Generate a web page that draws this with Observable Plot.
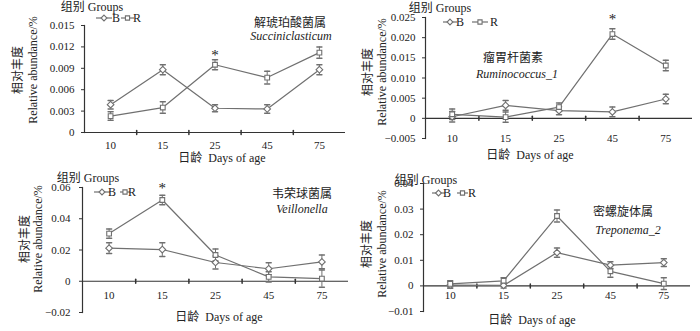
<!DOCTYPE html>
<html><head><meta charset="utf-8">
<script src="https://cdn.jsdelivr.net/npm/d3@7"></script>
<script src="https://cdn.jsdelivr.net/npm/@observablehq/plot@0.6"></script>
<style>
body{margin:0;background:#fff;}
#wrap{position:relative;width:700px;height:331px;overflow:hidden;background:#fff;}
.panel{position:absolute;}
#wrap svg, #wrap svg text{font-family:"Liberation Serif","Noto Sans CJK SC",serif !important;}
</style></head><body><div id="wrap"></div>
<script>
// ---------- data ----------
const days = ["10", "15", "25", "45", "75"];
const groups = ["B", "R"];

// Succiniclasticum
const succB = [0.0039, 0.0088, 0.0034, 0.0033, 0.0088];
const succBErr = [0.0006, 0.0007, 0.0005, 0.0006, 0.0007];
const succR = [0.0023, 0.0035, 0.0095, 0.0077, 0.0112];
const succRErr = [0.0006, 0.0008, 0.0007, 0.0009, 0.0008];
const succTicks = [0, 0.003, 0.006, 0.009, 0.012, 0.015];

// Ruminococcus_1
const rumiB = [0.0004, 0.0032, 0.0019, 0.0016, 0.0048];
const rumiBErr = [0.0013, 0.0012, 0.0010, 0.0012, 0.0012];
const rumiR = [0.0010, 0.0003, 0.0028, 0.0209, 0.0131];
const rumiRErr = [0.0013, 0.0013, 0.0010, 0.0013, 0.0013];
const rumiTicks = [-0.005, 0, 0.005, 0.010, 0.015, 0.020, 0.025];

// Veillonella
const veilB = [0.0212, 0.0203, 0.0120, 0.0080, 0.0124];
const veilBErr = [0.0035, 0.0044, 0.0041, 0.0038, 0.0044];
const veilR = [0.0305, 0.0520, 0.0168, 0.0028, 0.0017];
const veilRErr = [0.0030, 0.0030, 0.0038, 0.0033, 0.0055];
const veilTicks = [-0.02, 0, 0.02, 0.04, 0.06];

// Treponema_2
const trepB = [0.0003, 0.0002, 0.0130, 0.0081, 0.0091];
const trepBErr = [0.0012, 0.0010, 0.0018, 0.0013, 0.0015];
const trepR = [0.0008, 0.0020, 0.0273, 0.0057, 0.0009];
const trepRErr = [0.0012, 0.0012, 0.0023, 0.0023, 0.0023];
const trepTicks = [-0.01, 0, 0.01, 0.02, 0.03, 0.04];

// significance marks (*) : day and height
const succStars = [{day: "25", y: 0.0108}];
const rumiStars = [{day: "45", y: 0.0247}];
const veilStars = [{day: "15", y: 0.0595}];
const trepStars = [];

const legendTitle = "组别 Groups";
const yLabelCn = "相对丰度";
const yLabelEn = "Relative abundance/%";
const xLabel = "日龄  Days of age";

// ---------- drawing ----------
const FONT = '"Liberation Serif","Noto Sans CJK SC",serif';
const GRAY = "#707070";
const AXIS = "#333";
const seg = {draw(c, l) { c.moveTo(0, 0); c.lineTo(0, -l); }};
const minus = s => s.replace("-", "\u2212");

const panels = [
  {cn: "解琥珀酸菌属", la: "Succiniclasticum", B: succB, Be: succBErr, R: succR, Re: succRErr,
   dom: [0, 0.015], ticks: succTicks, fmt: d => d === 0 ? "0" : d.toFixed(3), stars: succStars,
   L: {left: 0, top: 0, w: 350, h: 165, ml: 84, mr: 5, mt: 25, mb: 33, typ: 7, txp: 13,
       cn: [290, 23], la: [291, 36], ycn: 18, yen: 33, yc: 70, xl: [222, 158],
       lg: {tx: 92, ty: 7, ry: 18, s1: [96, 112], b: 116, s2: [121, 134], r: 137}}},
  {cn: "瘤胃杆菌素", la: "Ruminococcus_1", B: rumiB, Be: rumiBErr, R: rumiR, Re: rumiRErr,
   dom: [-0.005, 0.025], ticks: rumiTicks, fmt: d => d === 0 ? "0" : minus(d.toFixed(3)), stars: rumiStars,
   L: {left: 350, top: 0, w: 350, h: 165, ml: 75, mr: 8, mt: 17, mb: 27, typ: 7, txp: 0,
       cn: [163, 58], la: [167, 74], ycn: 18, yen: 32, yc: 72, xl: [180, 155],
       lg: {tx: 90, ty: 8, ry: 22, s1: [93, 107], b: 110, s2: [122, 138], r: 144}}},
  {cn: "韦荣球菌属", la: "Veillonella", B: veilB, Be: veilBErr, R: veilR, Re: veilRErr,
   dom: [-0.02, 0.06], ticks: veilTicks, fmt: d => d === 0 ? "0" : minus(d.toFixed(2)), stars: veilStars,
   L: {left: 0, top: 165, w: 350, h: 166, ml: 82, mr: 2, mt: 22, mb: 19, typ: 9, txp: -17,
       cn: [302, 29], la: [302, 44], ycn: 25, yen: 38, yc: 74, xl: [219, 152],
       lg: {tx: 88, ty: 13, ry: 27, s1: [94, 110], b: 112, s2: [120, 130], r: 132}}},
  {cn: "密螺旋体属", la: "Treponema_2", B: trepB, Be: trepBErr, R: trepR, Re: trepRErr,
   dom: [-0.01, 0.04], ticks: trepTicks, fmt: d => d === 0 ? "0" : minus(d.toFixed(2)), stars: trepStars,
   L: {left: 350, top: 165, w: 350, h: 166, ml: 73, mr: 10, mt: 18, mb: 20, typ: 7, txp: -16,
       cn: [273, 47], la: [278, 65], ycn: 17, yen: 32, yc: 79, xl: [182, 155],
       lg: {tx: 76, ty: 15, ry: 28, s1: [82, 95], b: 97, s2: [107, 118], r: 122}}}
];

const wrap = document.getElementById("wrap");

for (const p of panels) {
  const L = p.L;
  const rows = [];
  days.forEach((d, i) => {
    rows.push({day: d, i, group: "B", v: p.B[i], e: p.Be[i]});
    rows.push({day: d, i, group: "R", v: p.R[i], e: p.Re[i]});
  });
  const xi = d => days.indexOf(d.day) + 0.5;
  const svg = Plot.plot({
    width: L.w, height: L.h,
    marginLeft: L.ml, marginRight: L.mr, marginTop: L.mt, marginBottom: L.mb,
    style: {fontFamily: FONT, fontSize: "11px", background: "transparent", overflow: "visible", color: "#222"},
    x: {domain: [0, days.length]},
    y: {domain: p.dom},
    symbol: {domain: groups, range: ["diamond2", "square2"]},
    marks: [
      Plot.frame({anchor: "left", stroke: AXIS, strokeWidth: 1.2}),
      Plot.ruleY([0], {stroke: AXIS, strokeWidth: 1.2}),
      Plot.axisY({ticks: p.ticks, tickSize: 3, tickPadding: L.typ, tickFormat: p.fmt, fontSize: 11, stroke: AXIS}),
      Plot.axisX({anchor: "bottom", ticks: days.map((d, i) => i + 0.5), tickFormat: t => days[Math.floor(t)],
                  tickSize: 0, tickPadding: L.txp, lineAnchor: "middle", fontSize: 11}),
      Plot.vector(d3.range(1, days.length), {x: d => d, y: 0, length: 4, anchor: "middle", shape: seg, stroke: AXIS}),
      Plot.line(rows, {x: xi, y: "v", z: "group", stroke: GRAY, strokeWidth: 1.2}),
      Plot.ruleX(rows, {x: xi, y1: d => d.v - d.e, y2: d => d.v + d.e, stroke: GRAY, strokeWidth: 1}),
      Plot.vector(rows, {x: xi, y: d => d.v + d.e, length: 5, rotate: 90, anchor: "middle", shape: seg, stroke: GRAY}),
      Plot.vector(rows, {x: xi, y: d => d.v - d.e, length: 5, rotate: 90, anchor: "middle", shape: seg, stroke: GRAY}),
      Plot.dot(rows, {x: xi, y: "v", symbol: "group", r: 3, fill: "white", stroke: GRAY, strokeWidth: 1.1}),
      Plot.text(p.stars, {x: xi, y: "y", text: () => "*", fontSize: 15, fill: "#222"})
    ]
  });
  const div = document.createElement("div");
  div.className = "panel";
  div.style.left = L.left + "px";
  div.style.top = L.top + "px";
  div.appendChild(svg);
  wrap.appendChild(div);

  const s = d3.select(svg);
  const g = s.append("g").attr("fill", "#222");
  // genus names
  g.append("text").attr("x", L.cn[0]).attr("y", L.cn[1]).attr("text-anchor", "middle")
    .attr("dominant-baseline", "central").attr("font-size", 12).text(p.cn);
  g.append("text").attr("x", L.la[0]).attr("y", L.la[1]).attr("text-anchor", "middle")
    .attr("dominant-baseline", "central").attr("font-size", 12).attr("font-style", "italic").text(p.la);
  // y labels
  g.append("text").attr("transform", `translate(${L.ycn},${L.yc}) rotate(-90)`).attr("text-anchor", "middle")
    .attr("dominant-baseline", "central").attr("font-size", 12).text(yLabelCn);
  g.append("text").attr("transform", `translate(${L.yen},${L.yc}) rotate(-90)`).attr("text-anchor", "middle")
    .attr("dominant-baseline", "central").attr("font-size", 12).text(yLabelEn);
  // x label
  g.append("text").attr("x", L.xl[0]).attr("y", L.xl[1]).attr("text-anchor", "middle")
    .attr("dominant-baseline", "central").attr("font-size", 12).style("white-space", "pre").text(xLabel);
  // legend
  const lg = L.lg;
  g.append("text").attr("x", lg.tx).attr("y", lg.ty).attr("dominant-baseline", "central").attr("font-size", 12).text(legendTitle);
  const entries = [
    {s: lg.s1, t: lg.b, sym: d3.symbolDiamond2, label: groups[0]},
    {s: lg.s2, t: lg.r, sym: d3.symbolSquare2, label: groups[1]}
  ];
  for (const e of entries) {
    g.append("line").attr("x1", e.s[0]).attr("x2", e.s[1]).attr("y1", lg.ry).attr("y2", lg.ry)
      .attr("stroke", GRAY).attr("stroke-width", 1.2);
    g.append("path").attr("d", d3.symbol(e.sym, 22)()).attr("transform", `translate(${(e.s[0] + e.s[1]) / 2},${lg.ry})`)
      .attr("fill", "white").attr("stroke", GRAY).attr("stroke-width", 1.1);
    g.append("text").attr("x", e.t).attr("y", lg.ry).attr("dominant-baseline", "central").attr("font-size", 12).text(e.label);
  }
}
</script></body></html>
